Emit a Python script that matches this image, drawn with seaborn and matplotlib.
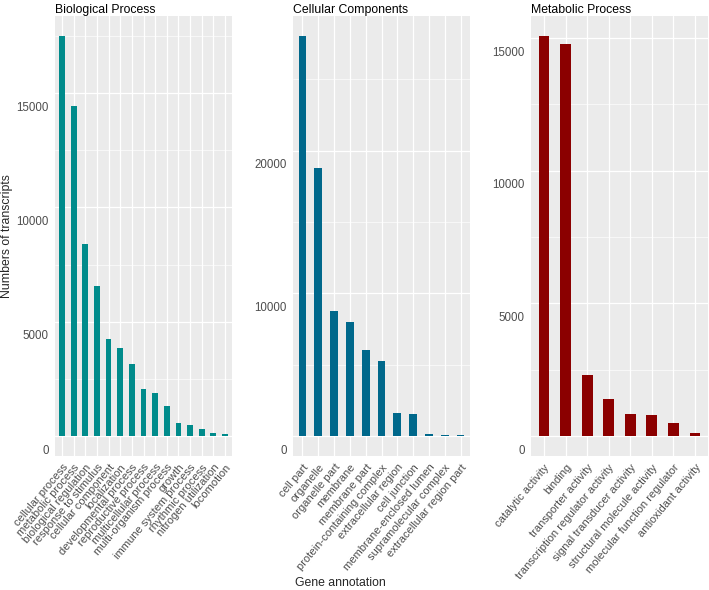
import pandas as pd
import matplotlib
matplotlib.use('Agg')
import matplotlib.pyplot as plt
import matplotlib.transforms as mtransforms
from matplotlib.ticker import MultipleLocator
import seaborn as sns

# GO categories and transcript counts
bp_terms = ['cellular process', 'metabolic process', 'biological regulation',
            'response to stimulus', 'cellular component', 'localization',
            'developmental process', 'reproductive process', 'multicellular process',
            'multi-organism process', 'growth', 'immune system process',
            'rhythmic process', 'nitrogen utilization', 'locomotion']
bp_counts = [17500, 14450, 8400, 6550, 4230, 3830, 3170, 2070, 1890, 1320,
             580, 490, 310, 140, 100]

cc_terms = ['cell part', 'organelle', 'organelle part', 'membrane', 'membrane part',
            'protein-containing complex', 'extracellular region', 'cell junction',
            'membrane-enclosed lumen', 'supramolecular complex', 'extracellular region part']
cc_counts = [28030, 18800, 8730, 7960, 6060, 5280, 1620, 1550, 150, 100, 80]

mf_terms = ['catalytic activity', 'binding', 'transporter activity',
            'transcription regulator activity', 'signal transducer activity',
            'structural molecule activity', 'molecular function regulator',
            'antioxidant activity']
mf_counts = [15080, 14770, 2300, 1400, 830, 800, 490, 125]

sns.set_theme(style='darkgrid', rc={'axes.facecolor': '#EBEBEB',
                                    'grid.color': 'white',
                                    'figure.facecolor': 'white'})
plt.rcParams['font.family'] = ['Liberation Sans', 'DejaVu Sans']

W, H = 709, 590
fig = plt.figure(figsize=(W / 100, H / 100), dpi=100)

panels = [
    ('Biological Process', bp_terms, bp_counts, '#008B8B', 55, 5000),
    ('Cellular Components', cc_terms, cc_counts, '#00688B', 293, 10000),
    ('Metabolic Process', mf_terms, mf_counts, '#8B0000', 531, 5000),
]

axes = []
for title, terms, counts, color, left, step in panels:
    ax = fig.add_axes([left / W, 1 - 456 / H, 177 / W, 440 / H])
    df = pd.DataFrame({'term': terms, 'count': counts})
    sns.barplot(data=df, x='term', y='count', color=color, width=0.5,
                saturation=1, linewidth=0, ax=ax)
    n = len(terms)
    top = max(counts)
    ax.set_xlim(-0.6, n - 0.4)
    ax.set_ylim(-0.05 * top, 1.05 * top)
    ax.yaxis.set_major_locator(MultipleLocator(step))
    ax.yaxis.set_minor_locator(MultipleLocator(step / 2))
    ax.grid(which='major', color='white', linewidth=0.9)
    ax.grid(which='minor', axis='y', color='white', linewidth=0.45)
    ax.set_axisbelow(True)
    for s in ax.spines.values():
        s.set_visible(False)
    ax.tick_params(axis='both', which='major', length=2.5, width=0.6,
                   color='#333333', labelcolor='#4D4D4D', pad=2)
    ax.tick_params(axis='y', which='minor', length=0)
    ax.tick_params(axis='y', labelsize=8.3)
    ax.set_xticks(range(n))
    ax.set_xticklabels(terms, rotation=50, ha='right', va='top',
                       rotation_mode='anchor', fontsize=8)
    ax.set_xlabel('')
    ax.set_ylabel('')
    ax.set_title(title, loc='left', fontsize=8.8, pad=2.5, color='black')
    axes.append(ax)

fig.text(7 / W, 1 - 236 / H, 'Numbers of transcripts', rotation=90,
         ha='center', va='center', fontsize=8.8)
fig.text(340 / W, 1 - 583 / H, 'Gene annotation', ha='center', va='center',
         fontsize=8.8)

# the y labels in the reference sit a bit below their ticks
fig.canvas.draw()
shift = mtransforms.ScaledTranslation(0, -0.13, fig.dpi_scale_trans)
for ax in axes:
    for lbl in ax.get_yticklabels():
        lbl.set_transform(lbl.get_transform() + shift)

fig.savefig('out.png', dpi=100)
